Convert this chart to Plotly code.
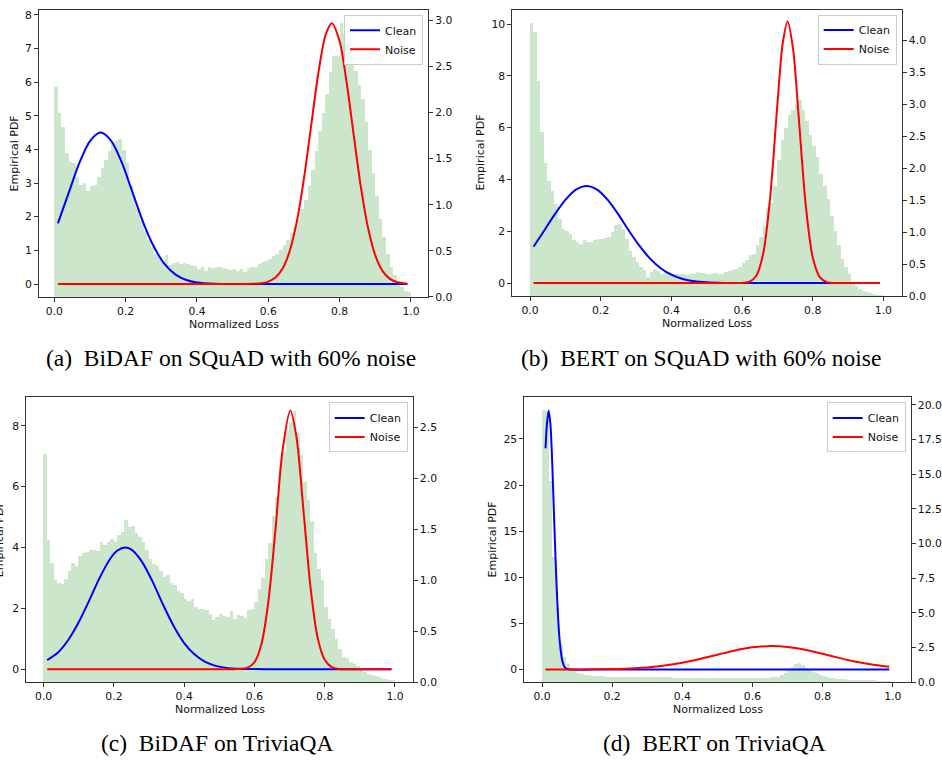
import plotly.graph_objects as go

# ---------------- data ----------------
bin_start = 0.0
bin_width = 0.01

hist_a = [2.28, 2.00, 1.85, 1.56, 1.47, 1.45, 1.30, 1.22, 1.24, 1.15,
          1.20, 1.22, 1.30, 1.40, 1.49, 1.58, 1.67, 1.69, 1.71, 1.60,
          1.45, 1.22, 1.08, 0.95, 0.82, 0.72, 0.62, 0.54, 0.47, 0.42,
          0.38, 0.46, 0.35, 0.37, 0.38, 0.36, 0.37, 0.36, 0.35, 0.34,
          0.30, 0.32, 0.28, 0.32, 0.31, 0.33, 0.32, 0.31, 0.30, 0.29,
          0.30, 0.28, 0.30, 0.27, 0.31, 0.32, 0.33, 0.36, 0.38, 0.39,
          0.41, 0.44, 0.47, 0.51, 0.56, 0.62, 0.69, 0.76, 0.84, 0.95,
          1.05, 1.20, 1.38, 1.58, 1.80, 2.00, 2.20, 2.44, 2.62, 2.62,
          2.97, 2.86, 2.75, 2.60, 2.45, 2.30, 2.15, 1.90, 1.60, 1.35,
          1.10, 0.85, 0.65, 0.47, 0.32, 0.24, 0.17, 0.11, 0.07, 0.05]

hist_b = [4.28, 4.14, 3.38, 2.58, 2.09, 1.81, 1.65, 1.45, 1.21, 1.06,
          1.03, 0.98, 0.88, 0.85, 0.83, 0.88, 0.85, 0.85, 0.88, 0.90,
          0.90, 0.91, 0.93, 1.01, 1.12, 1.14, 1.06, 0.90, 0.72, 0.62,
          0.54, 0.46, 0.41, 0.31, 0.39, 0.43, 0.40, 0.36, 0.39, 0.38,
          0.36, 0.35, 0.36, 0.35, 0.34, 0.35, 0.36, 0.38, 0.37, 0.37,
          0.36, 0.36, 0.37, 0.36, 0.36, 0.39, 0.40, 0.41, 0.43, 0.46,
          0.52, 0.57, 0.65, 0.67, 0.80, 0.93, 1.11, 1.39, 1.47, 1.73,
          2.14, 2.45, 2.63, 2.84, 2.92, 3.02, 3.07, 2.92, 2.74, 2.53,
          2.35, 2.19, 1.91, 1.73, 1.52, 1.26, 1.03, 0.80, 0.59, 0.46,
          0.36, 0.23, 0.17, 0.12, 0.09, 0.07, 0.05, 0.04, 0.03, 0.02]

hist_c = [2.23, 1.39, 1.16, 1.00, 0.97, 0.96, 1.01, 1.08, 1.16, 1.13,
          1.23, 1.26, 1.27, 1.29, 1.29, 1.28, 1.37, 1.34, 1.37, 1.40,
          1.37, 1.44, 1.47, 1.58, 1.52, 1.53, 1.46, 1.42, 1.37, 1.29,
          1.20, 1.15, 1.13, 1.08, 1.03, 1.05, 0.97, 0.95, 0.89, 0.87,
          0.81, 0.79, 0.81, 0.73, 0.71, 0.71, 0.70, 0.66, 0.60, 0.63,
          0.66, 0.64, 0.63, 0.69, 0.61, 0.65, 0.64, 0.62, 0.70, 0.71,
          0.78, 0.91, 1.02, 1.20, 1.36, 1.62, 1.81, 2.12, 2.25, 2.46,
          2.55, 2.65, 2.44, 2.22, 1.96, 1.78, 1.57, 1.26, 1.10, 1.00,
          0.73, 0.61, 0.52, 0.42, 0.32, 0.24, 0.23, 0.19, 0.17, 0.15,
          0.11, 0.09, 0.07, 0.06, 0.05, 0.04, 0.03, 0.03, 0.02, 0.01]

hist_d = [19.6, 19.5, 14.5, 9.0, 5.4, 2.7, 1.8, 1.3, 1.0, 0.8,
          0.65, 0.55, 0.50, 0.45, 0.42, 0.40, 0.38, 0.37, 0.36, 0.35,
          0.34, 0.34, 0.33, 0.33, 0.33, 0.32, 0.32, 0.32, 0.31, 0.31,
          0.31, 0.31, 0.30, 0.30, 0.30, 0.30, 0.30, 0.29, 0.29, 0.29,
          0.29, 0.29, 0.29, 0.28, 0.28, 0.28, 0.28, 0.28, 0.28, 0.28,
          0.28, 0.28, 0.28, 0.28, 0.28, 0.28, 0.28, 0.28, 0.28, 0.28,
          0.28, 0.28, 0.28, 0.29, 0.29, 0.30, 0.32, 0.36, 0.45, 0.62,
          0.83, 1.05, 1.30, 1.36, 1.19, 1.00, 0.88, 0.72, 0.59, 0.50,
          0.40, 0.34, 0.29, 0.24, 0.20, 0.17, 0.15, 0.12, 0.11, 0.09,
          0.08, 0.07, 0.06, 0.05, 0.05, 0.04, 0.04, 0.03, 0.03, 0.02]

clean_a_x = [0.01, 0.04, 0.07, 0.10, 0.13, 0.16, 0.19, 0.22, 0.25, 0.28, 0.31, 0.34, 0.37, 0.40, 0.45, 0.50, 0.70, 0.99]
clean_a_y = [1.80, 2.70, 3.59, 4.25, 4.50, 4.25, 3.59, 2.70, 1.81, 1.09, 0.58, 0.28, 0.12, 0.045, 0.007, 0.0, 0.0, 0.0]
noise_a_x = [0.01, 0.30, 0.50, 0.56, 0.58, 0.60, 0.62, 0.64, 0.66, 0.68, 0.70, 0.72, 0.74, 0.76, 0.778,
             0.80, 0.82, 0.84, 0.86, 0.88, 0.90, 0.92, 0.94, 0.96, 0.99]
noise_a_y = [0.0, 0.0, 0.0, 0.005, 0.02, 0.07, 0.19, 0.46, 0.98, 1.86, 3.14, 4.70, 6.25, 7.38, 7.75,
             7.21, 5.96, 4.38, 2.85, 1.65, 0.85, 0.39, 0.16, 0.06, 0.01]

clean_b_x = [0.01, 0.04, 0.07, 0.10, 0.13, 0.16, 0.19, 0.22, 0.25, 0.28, 0.31, 0.34, 0.37, 0.40, 0.43, 0.46,
             0.50, 0.55, 0.60, 0.75, 0.99]
clean_b_y = [1.40, 2.02, 2.65, 3.21, 3.61, 3.75, 3.61, 3.21, 2.65, 2.02, 1.43, 0.94, 0.57, 0.32, 0.165, 0.08,
             0.026, 0.005, 0.0, 0.0, 0.0]
noise_b_x = [0.01, 0.30, 0.50, 0.58, 0.60, 0.62, 0.64, 0.66, 0.68, 0.70, 0.715, 0.729, 0.745, 0.76, 0.78,
             0.80, 0.82, 0.84, 0.86, 0.92, 0.99]
noise_b_y = [0.0, 0.0, 0.0, 0.0, 0.005, 0.04, 0.27, 1.13, 3.35, 6.87, 9.23, 10.1, 8.98, 6.50, 3.06,
             1.00, 0.23, 0.035, 0.0, 0.0, 0.0]

clean_c_x = [0.01, 0.04, 0.07, 0.10, 0.13, 0.16, 0.19, 0.21, 0.232, 0.25, 0.28, 0.31, 0.34, 0.37, 0.40,
             0.43, 0.46, 0.49, 0.52, 0.55, 0.60, 0.65, 0.80, 0.99]
clean_c_y = [0.30, 0.54, 0.96, 1.55, 2.27, 3.02, 3.64, 3.90, 4.00, 3.93, 3.53, 2.88, 2.12, 1.42, 0.86,
             0.48, 0.24, 0.11, 0.044, 0.016, 0.003, 0.0, 0.0, 0.0]
noise_c_x = [0.01, 0.30, 0.48, 0.55, 0.58, 0.60, 0.62, 0.64, 0.66, 0.68, 0.702, 0.72, 0.74, 0.76, 0.78,
             0.80, 0.82, 0.84, 0.87, 0.93, 0.99]
noise_c_y = [0.0, 0.0, 0.0, 0.003, 0.05, 0.23, 0.83, 2.25, 4.61, 7.19, 8.50, 7.60, 5.16, 2.65, 1.03,
             0.31, 0.07, 0.01, 0.0, 0.0, 0.0]

clean_d_x = [0.010, 0.014, 0.019, 0.024, 0.029, 0.034, 0.039, 0.044, 0.049, 0.054, 0.059, 0.064, 0.069,
             0.075, 0.085, 0.20, 0.99]
clean_d_y = [24.0, 26.6, 28.1, 26.6, 22.5, 17.0, 11.6, 7.01, 3.80, 1.85, 0.80, 0.31, 0.11,
             0.03, 0.0, 0.0, 0.0]
noise_d_x = [0.01, 0.10, 0.20, 0.25, 0.30, 0.35, 0.40, 0.45, 0.50, 0.55, 0.60, 0.655, 0.70, 0.75, 0.80,
             0.85, 0.90, 0.95, 0.99]
noise_d_y = [0.0, 0.007, 0.05, 0.11, 0.23, 0.43, 0.74, 1.15, 1.61, 2.07, 2.41, 2.55, 2.45, 2.15, 1.71,
             1.24, 0.81, 0.49, 0.30]

captions = ["(a)\u00a0\u00a0BiDAF on SQuAD with 60% noise",
            "(b)\u00a0\u00a0BERT on SQuAD with 60% noise",
            "(c)\u00a0\u00a0BiDAF on TriviaQA",
            "(d)\u00a0\u00a0BERT on TriviaQA"]
series_names = ["Clean", "Noise"]
x_title = "Normalized Loss"
y_title = "Empirical PDF"

# ---------------- layout / style ----------------
W, H = 942, 760
HIST_COLOR = "#cce6cc"
CLEAN_COLOR = "#0000ff"
NOISE_COLOR = "#ff0000"
TEXT = "#111111"
SPINE = "#333333"
TICK_FONT = dict(family="DejaVu Sans", size=10.8, color=TEXT)

# pixel boxes (left, right, top, bottom) and axis ranges
panels = [
    dict(box=(39.0, 428.0, 9.0, 299.0), xr=[-0.0429, 1.0477], yl=[-0.382, 8.147], yr=[0, 3.115],
         dl=1, dr=0.5, hist=hist_a, clean=(clean_a_x, clean_a_y), noise=(noise_a_x, noise_a_y),
         ytx=14.0, cap=(231, 361)),
    dict(box=(512.3, 901.7, 8.7, 298.3), xr=[-0.0501, 1.052], yl=[-0.508, 10.558], yr=[0, 4.484],
         dl=2, dr=0.5, hist=hist_b, clean=(clean_b_x, clean_b_y), noise=(noise_b_x, noise_b_y),
         ytx=480.7, cap=(701, 361)),
    dict(box=(26.3, 412.7, 400.7, 688.3), xr=[-0.0494, 1.0505], yl=[-0.422, 8.931], yr=[0, 2.791],
         dl=2, dr=0.5, hist=hist_c, clean=(clean_c_x, clean_c_y), noise=(noise_c_x, noise_c_y),
         ytx=-0.5, cap=(217, 750)),
    dict(box=(524.3, 910.7, 400.7, 688.3), xr=[-0.0505, 1.0513], yl=[-1.355, 29.50], yr=[0, 20.54],
         dl=5, dr=2.5, hist=hist_d, clean=(clean_d_x, clean_d_y), noise=(noise_d_x, noise_d_y),
         ytx=492.7, cap=(714, 750)),
]

fig = go.Figure()
layout = dict(width=W, height=H, margin=dict(l=0, r=0, t=0, b=0),
              paper_bgcolor="white", plot_bgcolor="white", bargap=0,
              showlegend=True, annotations=[])

bin_centers = [bin_start + bin_width * (k + 0.5) for k in range(len(hist_a))]

for i, p in enumerate(panels, start=1):
    L, R, T, B = p["box"]
    xs = "" if i == 1 else str(i)
    yh = "" if i == 1 else str(2 * i - 1)
    yc = str(2 * i)
    leg = "legend" if i == 1 else f"legend{i}"

    fig.add_trace(go.Bar(x=bin_centers, y=p["hist"], width=bin_width * 1.02,
                         marker=dict(color=HIST_COLOR, line=dict(width=0)),
                         xaxis="x" + xs, yaxis="y" + yh, showlegend=False, hoverinfo="skip"))
    cx, cy = p["clean"]
    nx, ny = p["noise"]
    fig.add_trace(go.Scatter(x=cx, y=cy, mode="lines", name=series_names[0],
                             line=dict(color=CLEAN_COLOR, width=2, shape="spline", smoothing=0.8),
                             xaxis="x" + xs, yaxis="y" + yc, legend=leg))
    fig.add_trace(go.Scatter(x=nx, y=ny, mode="lines", name=series_names[1],
                             line=dict(color=NOISE_COLOR, width=2, shape="spline", smoothing=0.8),
                             xaxis="x" + xs, yaxis="y" + yc, legend=leg))

    common = dict(showline=True, linecolor=SPINE, linewidth=1, ticks="outside", ticklen=4,
                  tickwidth=1, tickcolor=SPINE, tickfont=TICK_FONT, showgrid=False, zeroline=False)
    layout["xaxis" + xs] = dict(domain=[L / W, R / W], range=p["xr"], anchor="y" + yh,
                                mirror=True, dtick=0.2, tick0=0, tickformat=".1f", **common)
    layout["yaxis" + yh] = dict(domain=[1 - B / H, 1 - T / H], range=p["yr"], anchor="x" + xs,
                                side="right", dtick=p["dr"], tick0=0, tickformat=".1f", **common)
    layout["yaxis" + yc] = dict(range=p["yl"], anchor="x" + xs, overlaying="y" + yh,
                                side="left", dtick=p["dl"], tick0=0, **common)
    layout[leg] = dict(x=(R - 5) / W, y=1 - (T + 5) / H, xanchor="right", yanchor="top",
                       bgcolor="rgba(255,255,255,0.8)", bordercolor="#cccccc", borderwidth=1,
                       font=dict(family="DejaVu Sans", size=11, color=TEXT),
                       tracegroupgap=0, itemwidth=30)

    layout["annotations"].append(dict(text=x_title, x=(L + R) / 2 / W, y=1 - (B + 27.5) / H,
                                      xref="paper", yref="paper", showarrow=False,
                                      xanchor="center", yanchor="middle",
                                      font=dict(family="DejaVu Sans", size=11, color=TEXT)))
    layout["annotations"].append(dict(text=y_title, x=p["ytx"] / W, y=1 - (T + B) / 2 / H,
                                      xref="paper", yref="paper", showarrow=False, textangle=-90,
                                      xanchor="center", yanchor="middle",
                                      font=dict(family="DejaVu Sans", size=11, color=TEXT)))
    layout["annotations"].append(dict(text=captions[i - 1], x=p["cap"][0] / W, y=1 - p["cap"][1] / H,
                                      xref="paper", yref="paper", showarrow=False,
                                      xanchor="center", yanchor="middle",
                                      font=dict(family="Liberation Serif", size=23.5, color="black")))

fig.update_layout(**layout)
fig.write_html("out.html", config={"displayModeBar": False},
               post_script="document.body.style.margin='0';document.body.style.overflow='hidden';")
